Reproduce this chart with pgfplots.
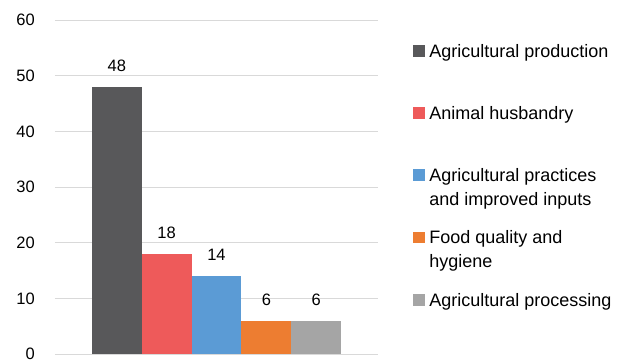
\documentclass[border=0pt]{standalone}
\usepackage{pgfplots}
\pgfplotsset{compat=1.18}
\usepackage{fontspec}
\setmainfont{Liberation Sans}
\definecolor{cA}{HTML}{58585A}
\definecolor{cB}{HTML}{EE5A5A}
\definecolor{cC}{HTML}{5B9BD5}
\definecolor{cD}{HTML}{ED7D31}
\definecolor{cE}{HTML}{A5A5A5}
\definecolor{gridc}{HTML}{D9D9D9}
\begin{document}
\begin{tikzpicture}
\useasboundingbox (0,0) rectangle (621bp,360bp);
\begin{axis}[
  at={(55bp,6bp)}, anchor=south west,
  scale only axis, width=323bp, height=334bp,
  xmin=-1.24, xmax=5.24, ymin=0, ymax=60,
  xtick=\empty, ytick={0,10,...,60},
  major tick length=0pt,
  axis line style={draw=none},
  ymajorgrids, grid style={gridc, line width=1bp},
  /pgf/number format/assume math mode=true,
  yticklabel style={anchor=east, inner sep=0pt, xshift=-20bp, font=\fontsize{16.5bp}{20bp}\selectfont},
  legend image code/.code={\path[fill=none, draw=none] (0bp,0.6bp) rectangle (12.3bp,12.3bp); \fill[#1, overlay] (0bp,17.7bp) rectangle (12.3bp,29.4bp);},
  legend cell align=left,
  legend style={draw=none, fill=none, at={(1.1084,0.9302)}, anchor=north west,
    inner sep=0pt, outer sep=0pt, column sep=4bp, row sep=0pt,
    font=\fontsize{18bp}{24bp}\selectfont,
    nodes={inner sep=0pt, text height=14bp, text depth=48.2bp}},
  every node near coord/.style={inner sep=0pt, anchor=south, yshift=15bp, font=\fontsize{16.5bp}{20bp}\selectfont, black},
]
\addplot[ybar, bar width=1, bar shift=0pt, fill=cA, draw=none, nodes near coords] coordinates {(0,48)};
\addlegendentry{Agricultural production}
\addplot[ybar, bar width=1, bar shift=0pt, fill=cB, draw=none, nodes near coords] coordinates {(1,18)};
\addlegendentry{Animal husbandry}
\addplot[ybar, bar width=1, bar shift=0pt, fill=cC, draw=none, nodes near coords] coordinates {(2,14)};
\addlegendentry{\parbox[t]{200bp}{Agricultural practices\\and improved inputs}}
\addplot[ybar, bar width=1, bar shift=0pt, fill=cD, draw=none, nodes near coords] coordinates {(3,6)};
\addlegendentry{\parbox[t]{200bp}{Food quality and\\hygiene}}
\addplot[ybar, bar width=1, bar shift=0pt, fill=cE, draw=none, nodes near coords] coordinates {(4,6)};
\addlegendentry{Agricultural processing}
\end{axis}
\end{tikzpicture}
\end{document}
